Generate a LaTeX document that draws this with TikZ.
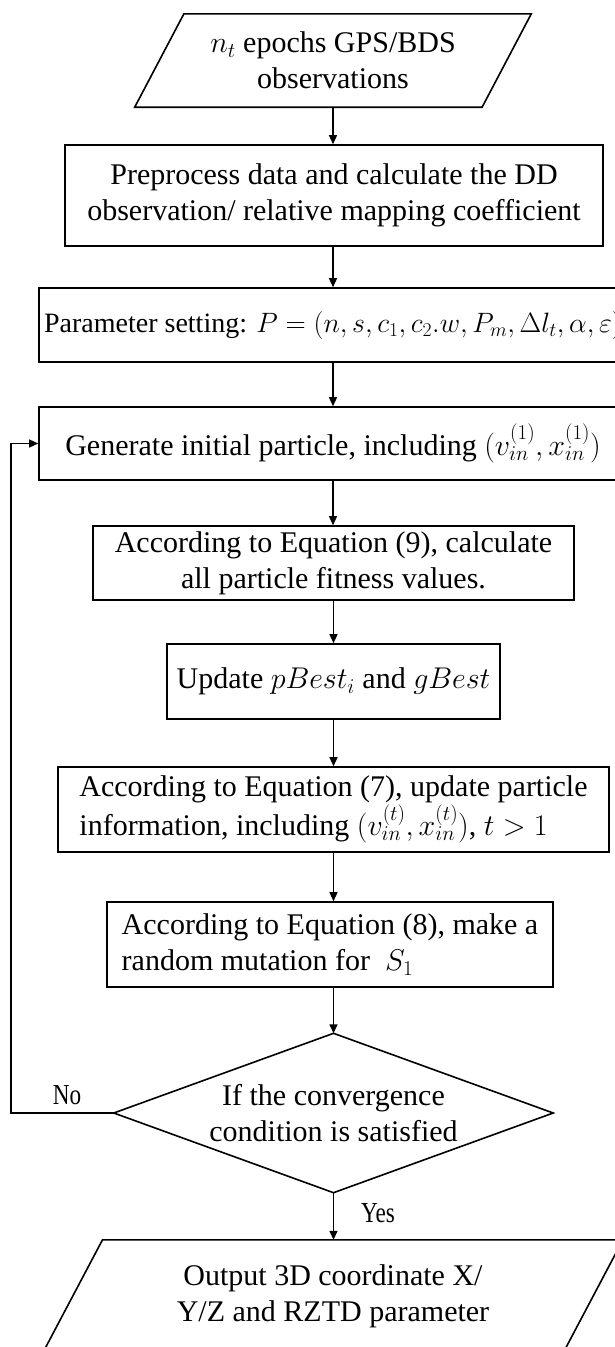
\RequirePackage{fix-cm}
\documentclass[tikz,border=0pt]{standalone}
\usepackage{fontspec}
\setmainfont{Liberation Serif}
\newfontfamily\labfont[FakeStretch=0.8]{Liberation Serif}
\usetikzlibrary{arrows.meta}
\begin{document}
\begin{tikzpicture}[x=1pt,y=-1pt,
  every node/.style={font=\fontsize{30}{36}\selectfont},
  box/.style={draw, line width=1.6pt, inner sep=0pt, align=center},
  plain/.style={inner sep=0pt, align=center},
  edge/.style={line width=1.6pt, line join=miter},
  arr/.style={line width=1.4pt, -{Triangle[length=9pt,width=8pt]}},
  lab/.style={font=\labfont\fontsize{29}{32}\selectfont, inner sep=0pt}]
\useasboundingbox (0,0) rectangle (615,1347);
\clip (0,0) rectangle (615,1347);

\node[plain, minimum width=347, minimum height=93] (in) at (333,60.5) {$n_t$ epochs GPS/BDS\\observations};
\draw[edge] ([xshift=24.6pt]in.north west) -- ([xshift=24.6pt]in.north east) -- ([xshift=-24.6pt]in.south east) -- ([xshift=-24.6pt]in.south west) -- cycle;

\node[box, minimum width=538, minimum height=101] (b2) at (334,195.5) {Preprocess data and calculate the DD\\observation/ relative mapping coefficient};
\node[box, minimum width=588, minimum height=74, font=\fontsize{28}{34}\selectfont] (b3) at (333,325) {\makebox[560pt]{Parameter setting: $P=(n,s,c_1,c_2.w,P_m,\Delta l_t,\alpha,\varepsilon)$}};
\node[box, minimum width=588, minimum height=73] (b4) at (333,443.5) {Generate initial particle, including $(v_{in}^{(1)},x_{in}^{(1)})$};
\node[box, minimum width=481, minimum height=74] (b5) at (333.5,563) {According to Equation (9), calculate\\all particle fitness values.};
\node[box, minimum width=333, minimum height=75] (b6) at (333.5,681.5) {Update $pBest_i$ and $gBest$};
\node[box, minimum width=551, minimum height=85, align=left] (b7) at (333.5,809.5) {According to Equation (7), update particle\\information, including $(v_{in}^{(t)},x_{in}^{(t)})$, $t>1$};
\node[box, minimum width=446, minimum height=85, align=left] (b8) at (330,944.5) {According to Equation (8), make a\\random mutation for \ $S_1$};

\node[plain, minimum width=439, minimum height=159] (dia) at (333.5,1113) {If the convergence\\condition is satisfied};
\draw[edge] (dia.north) -- (dia.east) -- (dia.south) -- (dia.west) -- cycle;

\node[plain, minimum width=520, minimum height=112] (out) at (333,1296) {Output 3D coordinate X/\\Y/Z and RZTD parameter};
\draw[edge] ([xshift=29.7pt]out.north west) -- ([xshift=29.7pt]out.north east) -- ([xshift=-29.7pt]out.south east) -- ([xshift=-29.7pt]out.south west) -- cycle;

\node[lab] (no) at (67,1095) {No};
\node[lab] (yes) at (378,1213) {Yes};

\draw[arr] (in.south) -- (in.south |- b2.north);
\draw[arr] (b2.south -| in.south) -- (in.south |- b3.north);
\draw[arr] (b3.south) -- (b3.south |- b4.north);
\draw[arr] (b4.south) -- (b4.south |- b5.north);
\draw[arr] (b5.south) -- (b5.south |- b6.north);
\draw[arr] (b6.south) -- (b6.south |- b7.north);
\draw[arr] (b7.south) -- (b7.south |- b8.north);
\draw[arr] (b7.south |- b8.south) -- (b7.south |- dia.north);
\draw[arr] (dia.south) -- (dia.south |- out.north);
\draw[arr] (dia.west) -- ++(-103,0) |- (b4.west);
\end{tikzpicture}
\end{document}
